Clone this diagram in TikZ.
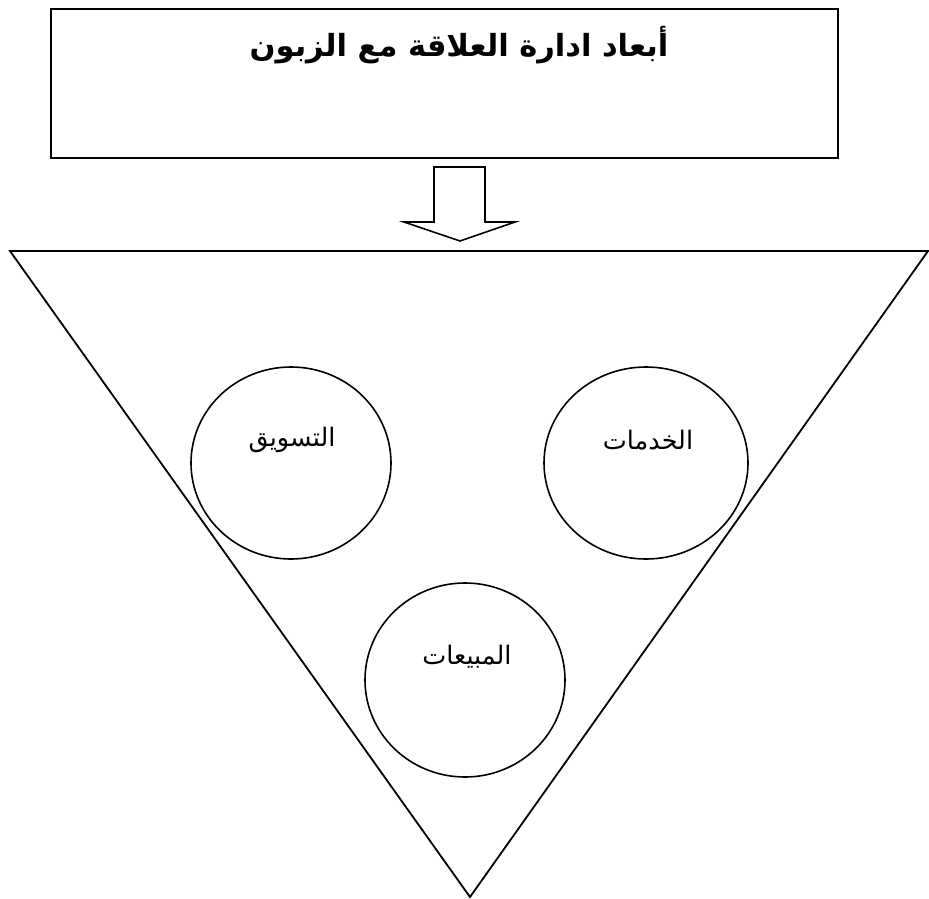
\documentclass[tikz,border=0pt]{standalone}
\usepackage{fontspec}
\newfontfamily\arabicfont[Script=Arabic]{DejaVu Sans}
\TeXXeTstate=1
\begin{document}
\begin{tikzpicture}[x=1pt,y=-1pt,
  thickline/.style={draw=black,line width=2pt},
  lbl/.style={font=\arabicfont\fontsize{25.5}{30}\selectfont,inner sep=0pt},
  ttl/.style={font=\arabicfont\bfseries\fontsize{30.5}{36}\selectfont,inner sep=0pt}]
\useasboundingbox (0,0) rectangle (929,899);
% top box
\node[thickline,rectangle,minimum width=787pt,minimum height=149pt,anchor=north west] (box) at (50,8) {};
\node[ttl] (title) at (459,45) {\beginR أبعاد ادارة العلاقة مع الزبون\endR};
% block arrow
\coordinate (a1) at (434,167);
\coordinate (a2) at (485,167);
\coordinate (a3) at (485,222);
\coordinate (a4) at (515,222);
\coordinate (tip) at (460,241);
\coordinate (a6) at (404,222);
\coordinate (a7) at (434,222);
\draw[line width=1.6pt,line join=miter] (a1) -- (a2) -- (a3) -- (a4) -- (tip) -- (a6) -- (a7) -- cycle;
% triangle
\coordinate (tl) at (10,251);
\coordinate (tr) at (928,251);
\coordinate (tb) at (470,897);
\draw[line width=1.8pt,line join=miter] (tl) -- (tr) -- (tb) -- cycle;
% circles
\draw[line width=1.6pt] (291,463) ellipse (100pt and 96pt);
\draw[line width=1.6pt] (646,463) ellipse (102pt and 96pt);
\draw[line width=1.6pt] (465,680) ellipse (100pt and 97pt);
\node[lbl] (c1) at (292,440) {\beginR التسويق\endR};
\node[lbl] (c2) at (648,440) {\beginR الخدمات\endR};
\node[lbl] (c3) at (467,657) {\beginR المبيعات\endR};
\end{tikzpicture}
\end{document}
